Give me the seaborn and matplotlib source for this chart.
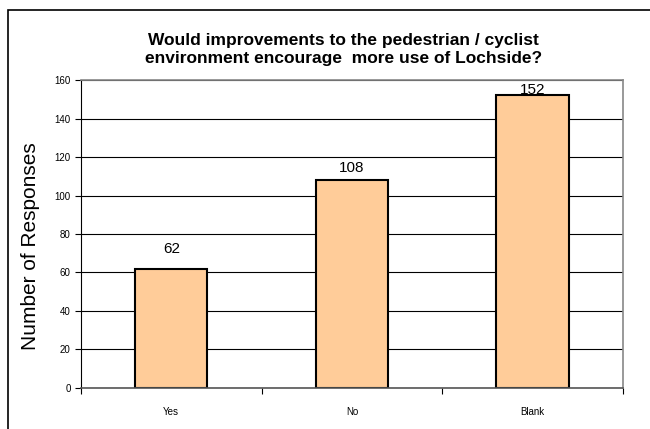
# grafica de barras: respuestas sobre Lochside

import pandas as pd
import seaborn as sns
import matplotlib.pyplot as plt
from matplotlib.patches import Rectangle

# datos
answers = ["Yes", "No", "Blank"]
responses = [62, 108, 152]
y_ticks = [0, 20, 40, 60, 80, 100, 120, 140, 160]

df = pd.DataFrame({"answer": answers, "responses": responses})

sns.set_style("white")
plt.rcParams["font.family"] = ["Liberation Sans", "DejaVu Sans"]
plt.rcParams["text.color"] = "black"

fig = plt.figure(figsize=(6.5, 4.29), dpi=100)
ax = fig.add_axes([0.1246, 0.0956, 0.8335, 0.7179])

sns.barplot(data=df, x="answer", y="responses", color="#FFCC99",
            edgecolor="black", linewidth=1.5, width=0.4, saturation=1, ax=ax)

ax.set_ylim(0, 160)
ax.set_xlim(-0.5, 2.5)
ax.set_yticks(y_ticks)
ax.yaxis.grid(True, color="black", linewidth=0.8)
ax.set_axisbelow(True)
ax.tick_params(axis="y", labelsize=7, length=4, width=0.8, direction="out",
               left=True, colors="black", labelcolor="black")
ax.tick_params(axis="x", labelsize=7, bottom=False, pad=10, labelcolor="black")
ax.set_xticks([-0.5, 0.5, 1.5, 2.5], minor=True)
ax.tick_params(axis="x", which="minor", length=4, width=0.8, bottom=True,
               color="black")

for s in ["top", "right"]:
    ax.spines[s].set_color("#888888")
    ax.spines[s].set_linewidth(1.2)
ax.spines["left"].set_color("black")
ax.spines["bottom"].set_color("#555555")
ax.spines["bottom"].set_linewidth(1.2)

# etiquetas de valor (como en Excel, mas juntas arriba)
for i, v in enumerate(responses):
    ax.text(i, v * 0.92 + 11.5, str(v), ha="center", va="bottom",
            fontsize=11)

ax.set_xlabel("")
ax.set_ylabel("Number of Responses", fontsize=15, color="black")
ax.yaxis.set_label_coords(-0.0757, 0.46)

fig.text(0.529, 0.885, "Would improvements to the pedestrian / cyclist\n"
         "environment encourage  more use of Lochside?",
         ha="center", va="center", fontsize=12.5, fontweight="bold",
         linespacing=1.3)

# marco de la figura
fig.patches.append(Rectangle((8 / 650, -0.1), 1.2, 1 - 10 / 429 + 0.1,
                             transform=fig.transFigure, fill=False,
                             edgecolor="black", linewidth=1.2))

fig.savefig("out.png", dpi=100)
